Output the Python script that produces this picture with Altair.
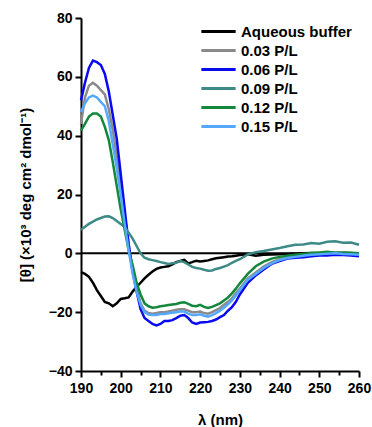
import altair as alt
import pandas as pd

lam = list(range(190, 231)) + list(range(232, 261, 2))

series_names = ["Aqueous buffer", "0.03 P/L", "0.06 P/L", "0.09 P/L", "0.12 P/L", "0.15 P/L"]
series_colors = ["#000000", "#8a8a8a", "#0a0aef", "#3d8a87", "#13873c", "#55a8ff"]

buffer = [-6.4, -7, -8, -10, -12.5, -14.5, -16.5, -17, -18, -17,
          -15.5, -15.3, -15, -13, -11.4, -10, -8.5, -7.3, -6.2, -5.3,
          -4.8, -4.6, -4.4, -3.8, -3, -2.6, -2.2, -3.4, -3, -2.5,
          -2.8, -2.6, -2.4, -2, -1.7, -1.5, -1.3, -1.1, -1, -0.8, -0.6,
          -0.3, -0.8, -0.5, -0.4, -0.3, -0.2, -0.1, 0, 0.1, 0, 0, 0.1, 0, 0, 0]

pl003 = [44, 53, 57, 58, 57, 55.5, 54, 49, 42, 33,
         24, 13, 3, -6, -12, -17, -19.5, -20.3, -20.5, -20.3,
         -20, -20, -19.8, -19.5, -19.2, -19, -19, -19.5, -20, -20,
         -19.8, -20.3, -20.5, -20, -19.3, -18.6, -17.5, -16.5, -15.3, -13.5, -12,
         -8.5, -6.5, -4.5, -3, -2, -1.4, -1, -0.7, -0.4, -0.2, 0, 0.3, 0.2, 0.1, -0.2]

pl006 = [52, 58, 63, 65.5, 65, 64, 61, 55, 47, 39,
         27, 15, 3, -6, -13, -19, -22, -23, -24, -24.5,
         -24, -23, -23, -22.7, -22, -21.2, -21, -22, -23.5, -24,
         -23.5, -23.4, -23.3, -23, -22.5, -21.7, -21, -19.5, -18.3, -16.5, -14,
         -10, -7.5, -5.5, -3.6, -2.6, -1.8, -1.5, -1.3, -1, -0.7, -0.7, -0.5, -0.6, -0.7, -1]

pl009 = [8, 9, 10, 10.8, 11.5, 12, 12.5, 12.6, 12, 11,
         10, 9, 7, 5, 2.5, 0, -1.5, -2, -2.3, -2.6,
         -3, -3.3, -3.6, -3.4, -3.2, -2.6, -3, -3.8, -4.6, -5,
         -5.2, -5.6, -5.9, -5.8, -5.3, -5, -4.5, -4, -3.2, -2.6, -2,
         -0.4, 0.4, 0.8, 1.3, 1.8, 2.4, 2.9, 3, 3.5, 3.3, 3.9, 4.1, 3.6, 3.7, 2.9]

pl012 = [41.7, 44, 46.5, 47.5, 47.5, 46.5, 43, 38.5, 31, 23,
         15, 8, 1, -4, -10, -14, -17, -18, -18.5, -18.3,
         -18, -17.8, -17.6, -17.4, -17.2, -16.8, -16.6, -17.2, -17.8, -18,
         -17.5, -18.2, -18.6, -18.2, -17.6, -17, -16, -15, -13.6, -12, -10.2,
         -7, -4.4, -2.8, -1.8, -1.2, -0.8, -0.5, -0.2, 0.1, 0.3, 0.5, 0.2, 0.3, 0.2, 0]

pl015 = [48, 51, 53, 53.6, 53, 51.5, 50, 45, 37, 29,
         20, 10, 1, -7, -13, -17.5, -20, -20.8, -21, -21,
         -20.6, -20.6, -20.4, -20.2, -20, -19.8, -19.8, -20.5, -21, -21,
         -20.7, -21.2, -21.5, -21, -20.3, -19.5, -18.5, -17.3, -16, -14.3, -12.5,
         -9, -7, -5, -3.4, -2.3, -1.6, -1.2, -0.8, -0.5, -0.3, -0.1, 0, -0.2, -0.3, -0.5]

all_series = [buffer, pl003, pl006, pl009, pl012, pl015]

rows = []
for name, vals in zip(series_names, all_series):
    for l, v in zip(lam, vals):
        rows.append({"lam": l, "theta": v, "series": name})
df = pd.DataFrame(rows)

zero_df = pd.DataFrame({"y": [0]})

FONT = "Liberation Sans"

x_enc = alt.X(
    "lam:Q",
    scale=alt.Scale(domain=[190, 260], nice=False, zero=False),
    axis=alt.Axis(
        title="λ (nm)",
        values=list(range(190, 261, 5)),
        labelExpr="datum.value % 10 === 0 ? datum.label : ''",
        tickSize={"condition": {"test": "datum.value % 10 === 0", "value": 6}, "value": 4},
        grid=False,
        labelFlush=False,
        labelOverlap=False,
        titlePadding=17,
        labelPadding=4,
    ),
)
y_enc = alt.Y(
    "theta:Q",
    scale=alt.Scale(domain=[-40, 80], nice=False, zero=False),
    axis=alt.Axis(
        title="[θ] (×10³ deg cm² dmol⁻¹)",
        values=list(range(-40, 81, 10)),
        labelExpr="datum.value % 20 === 0 ? datum.label : ''",
        tickSize={"condition": {"test": "datum.value % 20 === 0", "value": 6}, "value": 4},
        grid=False,
        labelFlush=False,
        labelOverlap=False,
        titlePadding=15,
        labelPadding=3,
    ),
)

lines = alt.Chart(df).mark_line(strokeWidth=2.5).encode(
    x=x_enc,
    y=y_enc,
    color=alt.Color(
        "series:N",
        scale=alt.Scale(domain=series_names, range=series_colors),
        sort=series_names,
        legend=alt.Legend(
            title=None,
            orient="none",
            legendX=129,
            legendY=5,
            symbolType="M-2.45,0H2.45",
            symbolSize=196,
            symbolStrokeWidth=3,
            rowPadding=2,
            labelOffset=14,
            labelFont=FONT,
            labelFontSize=15,
            labelFontWeight="bold",
            labelColor="#000000",
        ),
    ),
    order=alt.Order("series_order:Q"),
).transform_calculate(
    series_order="indexof(" + str(series_names) + ", datum.series)"
)

zero = alt.Chart(zero_df).mark_rule(color="black", strokeWidth=2).encode(
    y=alt.Y("y:Q", scale=alt.Scale(domain=[-40, 80], nice=False, zero=False)),
    x=alt.value(0),
    x2=alt.value(278),
)

chart = alt.layer(zero, lines).properties(
    width=278,
    height=353,
    autosize=alt.AutoSizeParams(type="none"),
    padding={"left": 81, "top": 18, "right": 13, "bottom": 56},
).configure_view(stroke=None).configure_axis(
    domainColor="black",
    domainWidth=2,
    tickColor="black",
    tickWidth=2,
    labelFont=FONT,
    labelFontSize=14,
    labelFontWeight="bold",
    labelColor="black",
    titleFont=FONT,
    titleFontSize=15,
    titleFontWeight="bold",
    titleColor="black",
)

chart.save("out.html", embed_options={"renderer": "svg", "actions": False})
